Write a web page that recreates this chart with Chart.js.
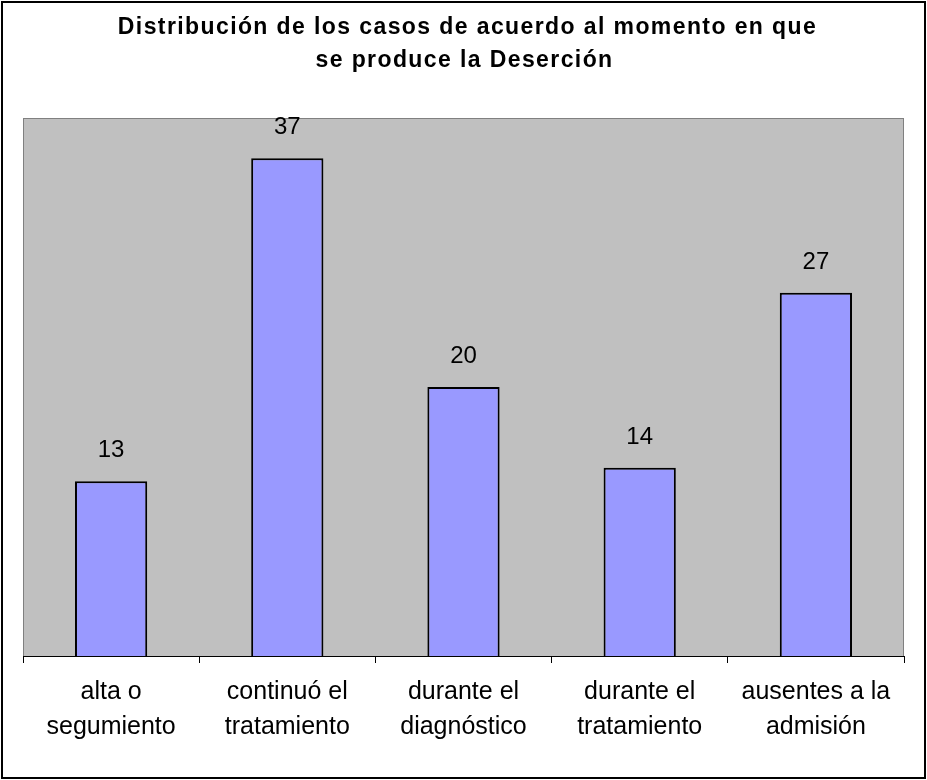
<!DOCTYPE html>
<html>
<head>
<meta charset="utf-8">
<script src="https://cdn.jsdelivr.net/npm/chart.js@4"></script>
<style>
  html, body { margin: 0; padding: 0; background: #fff; }
  #wrap { width: 927px; height: 780px; }
</style>
</head>
<body>
<div id="wrap"><canvas id="chart" width="927" height="780"></canvas></div>
<script>
const categories = [
  ['alta o', 'segumiento'],
  ['continuó el', 'tratamiento'],
  ['durante el', 'diagnóstico'],
  ['durante el', 'tratamiento'],
  ['ausentes a la', 'admisión']
];
const casos = [13, 37, 20, 14, 27];
const titleLines = [
  'Distribución de los casos de acuerdo al momento en que',
  'se produce la Deserción'
];

// fondo, borde exterior y area gris del grafico
const framePlugin = {
  id: 'frame',
  beforeDraw(chart) {
    const ctx = chart.ctx;
    const a = chart.chartArea;
    ctx.save();
    ctx.fillStyle = '#ffffff';
    ctx.fillRect(0, 0, chart.width, chart.height);
    ctx.strokeStyle = '#000000';
    ctx.lineWidth = 2;
    ctx.strokeRect(2, 2, chart.width - 4, chart.height - 4);
    ctx.fillStyle = '#C0C0C0';
    ctx.fillRect(a.left, a.top, a.right - a.left, a.bottom - a.top);
    ctx.strokeStyle = '#808080';
    ctx.lineWidth = 1;
    ctx.strokeRect(a.left + 0.5, a.top + 0.5, a.right - a.left - 1, a.bottom - a.top);
    // titulo
    ctx.fillStyle = '#000000';
    ctx.font = 'bold 23px "Liberation Sans", Arial, sans-serif';
    ctx.letterSpacing = '1.4px';
    ctx.textAlign = 'center';
    ctx.textBaseline = 'alphabetic';
    ctx.fillText(titleLines[0], chart.width / 2 + 4, 34);
    ctx.fillText(titleLines[1], chart.width / 2 + 1, 67);
    ctx.restore();
  }
};

// valores encima de las barras
const valueLabels = {
  id: 'valueLabels',
  afterDatasetsDraw(chart) {
    const ctx = chart.ctx;
    const meta = chart.getDatasetMeta(0);
    ctx.save();
    ctx.fillStyle = '#000000';
    ctx.font = '24px "Liberation Sans", Arial, sans-serif';
    ctx.textAlign = 'center';
    ctx.textBaseline = 'alphabetic';
    meta.data.forEach((bar, i) => {
      ctx.fillText(String(casos[i]), bar.x, bar.y - 24);
    });
    ctx.restore();
  }
};

const ctx = document.getElementById('chart').getContext('2d');
new Chart(ctx, {
  type: 'bar',
  data: {
    labels: categories,
    datasets: [{
      data: casos,
      backgroundColor: '#9999FF',
      borderColor: '#000000',
      borderWidth: 2,
      borderSkipped: 'bottom',
      barPercentage: 0.41,
      categoryPercentage: 1.0
    }]
  },
  options: {
    responsive: false,
    animation: false,
    layout: {
      padding: { top: 118, left: 23, right: 23, bottom: 23 }
    },
    plugins: {
      legend: { display: false },
      title: { display: false },
      tooltip: { enabled: false }
    },
    scales: {
      y: {
        display: false,
        min: 0,
        max: 40
      },
      x: {
        grid: {
          display: true,
          drawOnChartArea: false,
          drawTicks: true,
          tickLength: 7,
          color: '#000000',
          offset: true
        },
        border: { display: true, color: '#000000', width: 1 },
        ticks: {
          color: '#000000',
          padding: 12,
          maxRotation: 0,
          autoSkip: false,
          font: { family: '"Liberation Sans", Arial, sans-serif', size: 25, lineHeight: 1.4 }
        }
      }
    }
  },
  plugins: [framePlugin, valueLabels]
});
</script>
</body>
</html>
